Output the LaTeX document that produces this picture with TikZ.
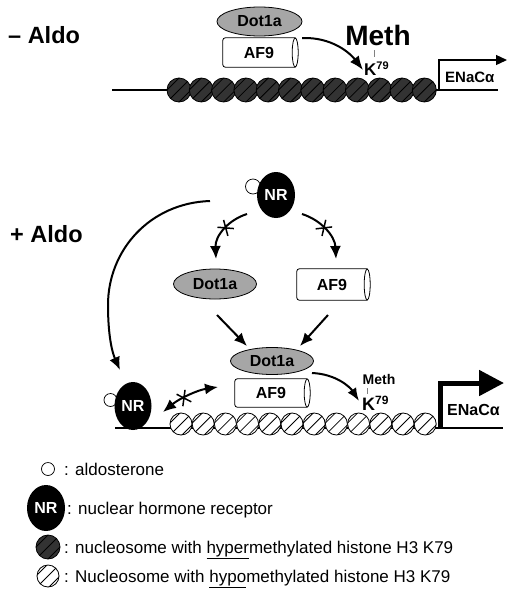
\documentclass[tikz,border=0pt]{standalone}
\usepackage{fontspec}
\setmainfont{Liberation Sans}
\usetikzlibrary{arrows.meta,shapes.geometric,shapes.misc}
\newcommand{\fsz}[1]{\fontsize{#1}{#1}\selectfont}
\newcommand{\cylbody}[2]{%
  \draw[line width=0.8pt, rounded corners=2.5pt] (#1.north east) -- (#1.north west) -- (#1.south west) -- (#1.south east);
  \draw[line width=0.8pt, fill=white] (#1.east) ellipse [x radius=3pt, y radius=#2];}
\newcommand{\hatchnuc}[2]{%
  \begin{scope}
    \clip (#1.center) circle (#2);
    \foreach \d in {-6,0,6} \draw[line width=0.8pt, shift={(#1.center)}] (-16+\d,16+\d) -- (16+\d,-16+\d);
  \end{scope}
  \draw[line width=0.8pt] (#1.center) circle (#2);}
\tikzset{
  dotone/.style={ellipse, draw, line width=0.8pt, fill=gray!70!white, inner sep=0pt, font=\bfseries\fsz{16}},
  afnine/.style={rectangle, inner sep=0pt, font=\bfseries\fsz{16}},
  nrnode/.style={ellipse, fill=black, inner sep=0pt, text=white, font=\bfseries\fsz{16}},
  aldo/.style={circle, draw, fill=white, line width=0.7pt, inner sep=0pt},
  nucdark/.style={circle, fill=black!80, minimum size=24pt, inner sep=0pt},
  nuclight/.style={circle, fill=white, minimum size=22pt, inner sep=0pt},
  conn/.style={line width=2pt, -{Latex[length=13pt,width=11pt]}},
  crossmk/.style={cross out, draw, line width=1.5pt, minimum width=8pt, minimum height=12pt, inner sep=0pt},
  lbl/.style={inner sep=0pt, anchor=base west},
  legtxt/.style={inner sep=0pt, anchor=base west, font=\fsz{17}},
}
\begin{document}
\begin{tikzpicture}[x=1pt, y=-1pt]
\useasboundingbox (0,0) rectangle (514,600);

% ---------- - Aldo ----------
\node[lbl, font=\bfseries\fsz{23.5}] (minus) at (8,43) {– Aldo};
\draw[line width=2pt] (112,90) -- (498,90);
\foreach \i in {0,...,11} {
  \node[nucdark] (t\i) at ({179+22.3*\i},90) {};
  \hatchnuc{t\i}{12pt}
}
\node[dotone, minimum width=85pt, minimum height=29pt] (dt) at (259.5,21.5) {Dot1a};
\node[afnine, minimum width=72pt, minimum height=29pt] (at) at (259,52.5) {AF9};
\cylbody{at}{14.5pt}
\node[inner sep=0pt, anchor=base, font=\bfseries\fsz{28}] (mt) at (378,45) {Meth};
\node[lbl, font=\bfseries\fsz{17}] (kt) at (364,75) {K\raisebox{5.5pt}{\fsz{11}79}};
\coordinate (tk1) at (374,50);
\coordinate (tk2) at (374,57);
\draw[line width=0.7pt, gray] (tk1) -- (tk2);
\coordinate (a1s) at (302,38);
\coordinate (a1e) at (363,70);
\draw[line width=2pt, -{Latex[length=14pt,width=11pt]}] (a1s) .. controls (332,37) and (350,53) .. (a1e);
\coordinate (p1s) at (439,90);
\coordinate (p1e) at (507,60);
\draw[line width=1.3pt, -{Triangle[length=11pt,width=10pt]}] (p1s) |- (p1e);
\node[lbl, font=\bfseries\fsz{15}] (ent) at (445,82) {ENaCα};

% ---------- + Aldo ----------
\node[lbl, font=\bfseries\fsz{23.5}] (plus) at (10,242) {+ Aldo};
\node[aldo, minimum size=15pt] (al1) at (253,186.5) {};
\node[nrnode, minimum width=38pt, minimum height=46pt] (nr1) at (276,195) {NR};
\node[dotone, minimum width=83pt, minimum height=30pt] (dm) at (215,284) {Dot1a};
\node[afnine, minimum width=70pt, minimum height=31pt] (am) at (332,284.5) {AF9};
\cylbody{am}{15.5pt}

\coordinate (l1s) at (247,214);
\coordinate (l1e) at (216,259);
\coordinate (r1s) at (302,214);
\coordinate (r1e) at (336,259);
\draw[conn] (l1s) .. controls (228,220) and (215,236) .. node[crossmk, pos=0.45, sloped] (x1) {} (l1e);
\draw[conn] (r1s) .. controls (321,220) and (335,236) .. node[crossmk, pos=0.45, sloped] (x2) {} (r1e);

\coordinate (bs) at (210,201);
\coordinate (bm) at (108,305);
\coordinate (be) at (120,370);
\draw[conn] (bs) .. controls (150,203) and (108,250) .. (bm) .. controls (108,335) and (112,352) .. (be);

\coordinate (d1s) at (217,315);
\coordinate (d1e) at (247,346);
\coordinate (d2s) at (328,315);
\coordinate (d2e) at (300,346);
\draw[conn] (d1s) -- (d1e);
\draw[conn] (d2s) -- (d2e);

% ---------- bottom chromatin ----------
\draw[line width=2pt] (115,428) -- (503,428);
\foreach \i in {0,...,11} {
  \node[nuclight] (b\i) at ({181+22.2*\i},424) {};
  \hatchnuc{b\i}{11pt}
}
\node[aldo, minimum size=13pt] (al2) at (110.5,400) {};
\node[nrnode, minimum width=37pt, minimum height=48pt] (nr2) at (133,406) {NR};
\node[dotone, minimum width=83pt, minimum height=27pt] (db) at (272,361) {Dot1a};
\node[afnine, minimum width=72pt, minimum height=28pt] (ab) at (271,393) {AF9};
\cylbody{ab}{14pt}

\coordinate (w1) at (163,412);
\coordinate (w2) at (218,387);
\draw[line width=2pt, {Latex[length=13pt,width=11pt]}-{Latex[length=13pt,width=11pt]}] (w1) .. controls (180,398) and (198,390) .. node[crossmk, pos=0.4, sloped] (x3) {} (w2);

\coordinate (a2s) at (312,373);
\coordinate (a2e) at (359,401);
\draw[line width=2pt, -{Latex[length=13pt,width=10pt]}] (a2s) .. controls (336,374) and (350,387) .. (a2e);
\node[inner sep=0pt, anchor=base, font=\bfseries\fsz{14}] (mb) at (379,384) {Meth};
\coordinate (tb1) at (367,388);
\coordinate (tb2) at (367,394);
\draw[line width=0.7pt, gray] (tb1) -- (tb2);
\node[lbl, font=\bfseries\fsz{18}] (kb) at (362,410) {K\raisebox{6pt}{\fsz{12}79}};

\coordinate (p2s) at (440,429);
\coordinate (p2e) at (504,383);
\draw[line width=5pt, -{Triangle[length=25pt,width=25pt]}] (p2s) |- (p2e);
\node[lbl, font=\bfseries\fsz{16}] (enb) at (447,415) {ENaCα};

% ---------- legend ----------
\node[aldo, minimum size=13pt] (al3) at (48,469) {};
\node[legtxt] (lg1) at (64,475) {: aldosterone};
\node[nrnode, minimum width=38pt, minimum height=46pt] (nr3) at (46,508) {NR};
\node[legtxt] (lg2) at (67,514) {: nuclear hormone receptor};
\node[nucdark] (ld) at (48,547) {};
\hatchnuc{ld}{12pt}
\node[legtxt] (lg3) at (64,553) {: nucleosome with \underline{hyper}methylated histone H3 K79};
\node[nuclight] (ll) at (48,576) {};
\hatchnuc{ll}{11pt}
\node[legtxt] (lg4) at (64,582) {: Nucleosome with \underline{hypo}methylated histone H3 K79};
\end{tikzpicture}
\end{document}
